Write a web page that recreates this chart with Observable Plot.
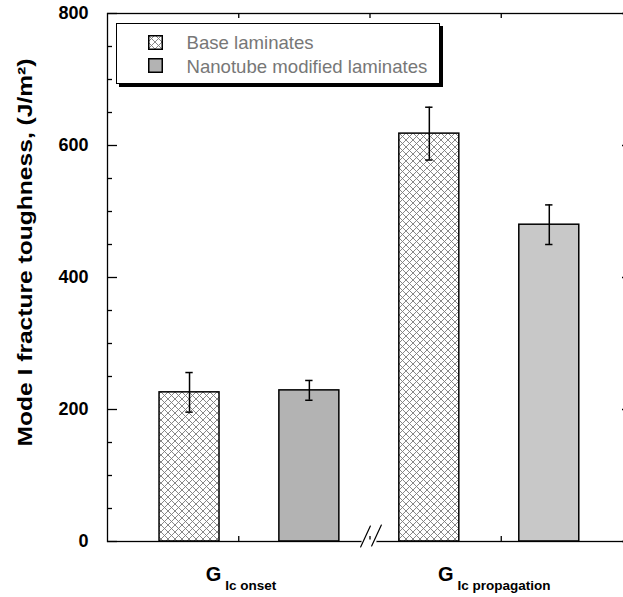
<!DOCTYPE html>
<html>
<head>
<meta charset="utf-8">
<script src="https://cdn.jsdelivr.net/npm/d3@7"></script>
<script src="https://cdn.jsdelivr.net/npm/@observablehq/plot@0.6"></script>
<style>
html, body { margin: 0; padding: 0; background: #fff; overflow: hidden; width: 623px; height: 597px; }
#wrap { position: relative; width: 623px; height: 597px; overflow: hidden; }
#chart { position: absolute; left: 0; top: 0; width: 648px; }
#chart svg { max-width: none !important; }
#legend { position: absolute; left: 115.5px; top: 23px; width: 324px; height: 61px; box-sizing: border-box;
  border: 1.5px solid #000; background: #fff; box-shadow: 3px 3px 0 #000;
  font-family: "Liberation Sans", Arial, Helvetica, sans-serif; font-size: 18.6px; color: #777; }
#legend .sw { position: absolute; left: 31px; width: 15px; height: 15px; }
#legend .lt { position: absolute; left: 70px; line-height: 20px; white-space: nowrap; }
</style>
</head>
<body>
<div id="wrap">
  <div id="chart"></div>
  <div id="legend"></div>
</div>
<script>
// ---- data ----
const groupNames = ["onset", "propagation"];
const groupSubs = ["Ic onset", "Ic propagation"];
const groupLabelPos = [1.017, 2.947];
const seriesKeys = ["base", "nano"];
const seriesNames = ["Base laminates", "Nanotube modified laminates"];
const barSeries = ["base", "nano", "base", "nano"];
const barGroup = ["onset", "onset", "propagation", "propagation"];
const barPos = [0.625, 1.538, 2.452, 3.366];
const barValues = [226, 229, 618, 480];
const barErrors = [30, 15, 40, 30];
const yTicks = [0, 200, 400, 600, 800];
const yMinorTicks = [50, 100, 150, 250, 300, 350, 450, 500, 550, 650, 700, 750];
const xTicks = [1, 2, 3];
const breakAt = 2;
const yLabel = "Mode I fracture toughness, (J/m²)";

const bars = barValues.map((v, i) => ({
  series: barSeries[i], group: barGroup[i], pos: barPos[i], value: v, err: barErrors[i]
}));
const groupData = groupLabelPos.map((p, i) => ({pos: p, name: groupNames[i], sub: groupSubs[i]}));

// ---- styling ----
const HALF = 0.2285, CAP = 0.028;
const fillFor = d => d.series === "base" ? "url(#hatch)" : (d.group === "onset" ? "#b3b3b3" : "#c8c8c8");
const lineShape = {draw(context, l) { context.moveTo(0, 0); context.lineTo(0, -l); }};
const FONT = "'Liberation Sans', Arial, Helvetica, sans-serif";

const chart = Plot.plot({
  width: 648,
  height: 597,
  marginLeft: 107,
  marginRight: 16,
  marginTop: 13,
  marginBottom: 56,
  style: {fontFamily: FONT, background: "#fff", color: "#000", overflow: "visible", maxWidth: "none"},
  x: {domain: [0, 4], axis: null},
  y: {domain: [0, 800], axis: null},
  color: {type: "identity"},
  marks: [
    Plot.rectY(bars, {x1: d => d.pos - HALF, x2: d => d.pos + HALF, y1: 0, y2: "value",
      fill: fillFor, stroke: "#000", strokeWidth: 1.5}),
    Plot.ruleX(bars, {x: "pos", y1: d => d.value - d.err, y2: d => d.value + d.err, stroke: "#000", strokeWidth: 1.5}),
    Plot.ruleY(bars, {y: d => d.value + d.err, x1: d => d.pos - CAP, x2: d => d.pos + CAP, stroke: "#000", strokeWidth: 1.5}),
    Plot.ruleY(bars, {y: d => d.value - d.err, x1: d => d.pos - CAP, x2: d => d.pos + CAP, stroke: "#000", strokeWidth: 1.5}),
    Plot.frame({stroke: "#000", strokeWidth: 1.3}),
    // inward ticks, left and right
    Plot.tickY(yTicks, {y: d => d, insetRight: 515, stroke: "#000", strokeWidth: 1.3}),
    Plot.tickY(yMinorTicks, {y: d => d, insetRight: 520, stroke: "#000", strokeWidth: 1.3}),
    Plot.tickY(yTicks, {y: d => d, insetLeft: 515, stroke: "#000", strokeWidth: 1.3}),
    Plot.tickY(yMinorTicks, {y: d => d, insetLeft: 520, stroke: "#000", strokeWidth: 1.3}),
    // inward ticks, top and bottom
    Plot.tickX(xTicks, {x: d => d, insetBottom: 523, stroke: "#000", strokeWidth: 1.3}),
    Plot.tickX(xTicks, {x: d => d, insetTop: 523, stroke: "#000", strokeWidth: 1.3}),
    // axis break
    Plot.vector([{x: breakAt, y: 0}], {x: "x", y: "y", length: 11, rotate: 90, anchor: "middle", dx: -1,
      shape: lineShape, stroke: "#fff", strokeWidth: 4}),
    Plot.vector([{x: breakAt, y: 0}], {x: "x", y: "y", length: 23, rotate: 25, anchor: "middle", dx: -4.5, dy: -5,
      shape: lineShape, stroke: "#000", strokeWidth: 1.2}),
    Plot.vector([{x: breakAt, y: 0}], {x: "x", y: "y", length: 23, rotate: 25, anchor: "middle", dx: 6.5, dy: -6,
      shape: lineShape, stroke: "#000", strokeWidth: 1.2}),
    // y tick labels
    Plot.axisY(yTicks, {anchor: "left", tickSize: 0, tickPadding: 19, fontSize: 18, fontWeight: "bold", label: null}),
    // y label (stretched along its length below)
    Plot.text([yLabel], {text: d => d, frameAnchor: "left", dx: -82, dy: -25, rotate: -90,
      fontSize: 20, fontWeight: "bold", textAnchor: "middle", lineAnchor: "middle"}),
    // group labels ("G" + subscript added below)
    Plot.text(groupData, {x: "pos", text: () => "G", frameAnchor: "bottom", dy: 39, lineAnchor: "bottom",
      textAnchor: "middle", fontSize: 20, fontWeight: "bold"})
  ]
});
chart.style.maxWidth = "none";

// pattern definition
d3.select(chart).insert("defs", ":first-child").html(
  '<pattern id="hatch" patternUnits="userSpaceOnUse" width="7" height="7">' +
  '<rect width="7" height="7" fill="#fff"/>' +
  '<path d="M0,0L7,7M7,0L0,7M-1,6L1,8M6,-1L8,1M-1,1L1,-1M6,8L8,6" stroke="#7a7a7a" stroke-width="0.9" fill="none"/>' +
  '</pattern>');

// stretched y label, as in the reference
d3.select(chart).selectAll("text").filter(function() { return this.textContent === yLabel; })
  .attr("textLength", 388).attr("lengthAdjust", "spacingAndGlyphs");

// rich group labels: G with subscript
d3.select(chart).selectAll("text").filter(function() { return this.textContent === "G"; }).each(function(_, i) {
  const t = d3.select(this);
  t.text(null);
  t.append("tspan").text("G");
  t.append("tspan").attr("dx", 4).attr("dy", 9).attr("font-size", 13.5).text(groupData[i].sub);
});

document.getElementById("chart").appendChild(chart);

// legend
const legend = d3.select("#legend");
seriesKeys.forEach((k, i) => {
  const top = [11, 34][i];
  const sw = legend.append("svg").attr("class", "sw").attr("width", 15).attr("height", 15)
    .style("top", top + "px");
  sw.append("rect").attr("x", 0.75).attr("y", 0.75).attr("width", 13.5).attr("height", 13.5)
    .attr("fill", k === "base" ? "url(#hatch)" : "#b3b3b3").attr("stroke", "#000").attr("stroke-width", 1.5);
  legend.append("div").attr("class", "lt").style("top", [9.0, 33.0][i] + "px").text(seriesNames[i]);
});
</script>
</body>
</html>
